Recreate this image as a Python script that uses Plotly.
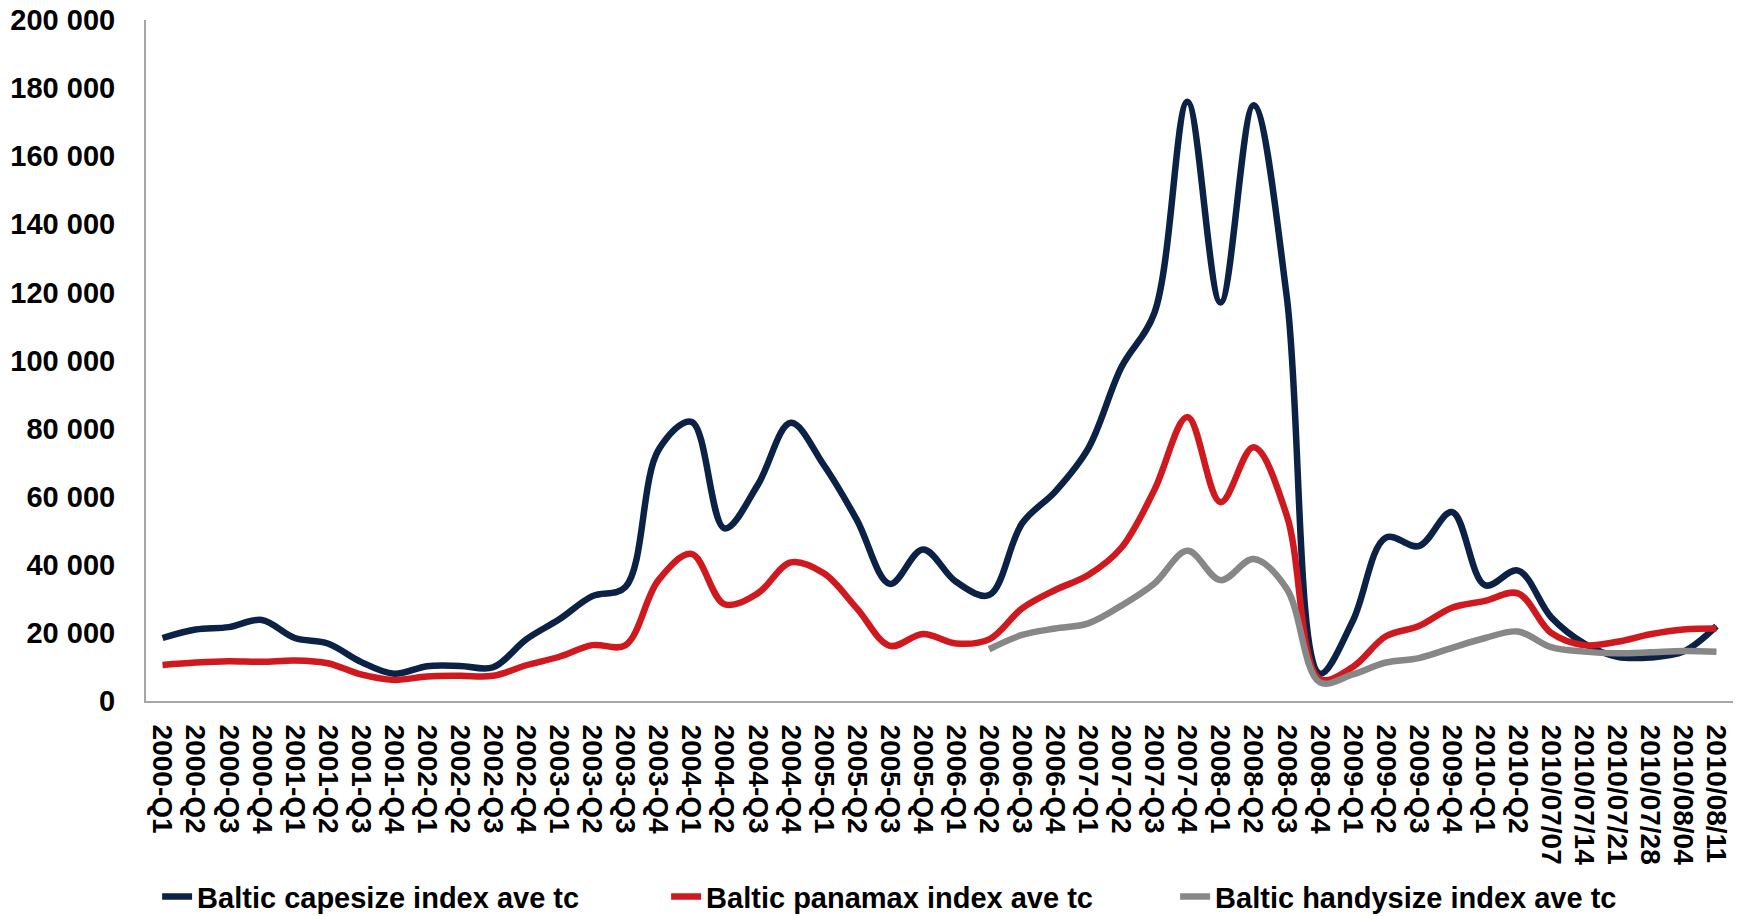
import plotly.graph_objects as go

categories = [
    "2000-Q1", "2000-Q2", "2000-Q3", "2000-Q4",
    "2001-Q1", "2001-Q2", "2001-Q3", "2001-Q4",
    "2002-Q1", "2002-Q2", "2002-Q3", "2002-Q4",
    "2003-Q1", "2003-Q2", "2003-Q3", "2003-Q4",
    "2004-Q1", "2004-Q2", "2004-Q3", "2004-Q4",
    "2005-Q1", "2005-Q2", "2005-Q3", "2005-Q4",
    "2006-Q1", "2006-Q2", "2006-Q3", "2006-Q4",
    "2007-Q1", "2007-Q2", "2007-Q3", "2007-Q4",
    "2008-Q1", "2008-Q2", "2008-Q3", "2008-Q4",
    "2009-Q1", "2009-Q2", "2009-Q3", "2009-Q4",
    "2010-Q1", "2010-Q2",
    "2010/07/07", "2010/07/14", "2010/07/21", "2010/07/28", "2010/08/04", "2010/08/11",
]

capesize = [
    18500, 21000, 21700, 23800,
    18500, 16900, 11500, 8000,
    10200, 10300, 9900, 18100,
    24000, 30800, 33500, 73700,
    82000, 50700, 63400, 81700,
    69300, 53200, 34400, 44500,
    35000, 31100, 52200, 61500,
    74200, 98000, 114000, 176000,
    117000, 175000, 119000, 8000,
    23500, 48000, 45500, 55500,
    34000, 38300, 24600, 16900,
    13000, 12800, 14500, 22000,
]

panamax = [
    10600, 11300, 11700, 11500,
    11900, 11100, 7800, 6200,
    7200, 7400, 7400, 10500,
    13000, 16400, 16400, 35500,
    43200, 28400, 31600, 40700,
    37500, 27200, 16200, 19700,
    16900, 18100, 27200, 32600,
    37000, 45000, 62000, 83400,
    58400, 74500, 54600, 6500,
    10000, 19000, 22000, 27400,
    29400, 31600, 20000, 16400,
    17400, 19600, 21000, 21300,
]

handysize = [
    None, None, None, None,
    None, None, None, None,
    None, None, None, None,
    None, None, None, None,
    None, None, None, None,
    None, None, None, None,
    None, 15200, 19400, 21300,
    22800, 28000, 34500, 44100,
    35500, 41700, 33000, 5500,
    7800, 11300, 12600, 15600,
    18500, 20400, 15800, 14500,
    14000, 14300, 14700, 14500,
]

series_names = [
    "Baltic capesize index ave tc",
    "Baltic panamax index ave tc",
    "Baltic handysize index ave tc",
]
y_ticks = [0, 20000, 40000, 60000, 80000, 100000, 120000, 140000, 160000, 180000, 200000]

colors = ["#0B2246", "#D0181F", "#878787"]
FONT = "Liberation Sans"

fig = go.Figure()
for name, vals, col in zip(series_names, [capesize, panamax, handysize], colors):
    fig.add_trace(go.Scatter(
        x=categories, y=vals, name=name, mode="lines",
        line=dict(color=col, width=6.5, shape="spline", smoothing=1.0),
        connectgaps=False,
    ))

fig.update_layout(
    width=1747, height=916,
    margin=dict(l=146, r=14, t=20, b=215, autoexpand=False),
    paper_bgcolor="white", plot_bgcolor="white",
    separators=". ",
    font=dict(family=FONT, size=28, color="black", weight="bold"),
    showlegend=True,
    legend=dict(
        orientation="h",
        x=0.007, xanchor="left",
        yref="container",
        y=0.021, yanchor="middle",
        font=dict(family=FONT, size=29, color="black", weight="bold"),
        entrywidth=464, entrywidthmode="pixels",
        itemwidth=30,
        bgcolor="rgba(0,0,0,0)",
    ),
)

fig.update_xaxes(
    type="category",
    categoryorder="array", categoryarray=categories,
    tickmode="array", tickvals=categories, ticktext=categories,
    range=[-0.5, len(categories) - 0.5],
    tickangle=90,
    tickfont=dict(family=FONT, size=28, color="black", weight="bold"),
    showline=True, linecolor="#A6A6A6", linewidth=2,
    showgrid=False, zeroline=False, automargin=False,
    ticks="", ticklabelstandoff=16,
)

fig.update_yaxes(
    range=[0, 200000],
    tickvals=y_ticks,
    tickformat=",d",
    tickfont=dict(family=FONT, size=29, color="black", weight="bold"),
    showline=True, linecolor="#A6A6A6", linewidth=2,
    showgrid=False, zeroline=False, automargin=False,
    ticks="", ticklabelstandoff=23,
)

fig.write_html("out.html")
